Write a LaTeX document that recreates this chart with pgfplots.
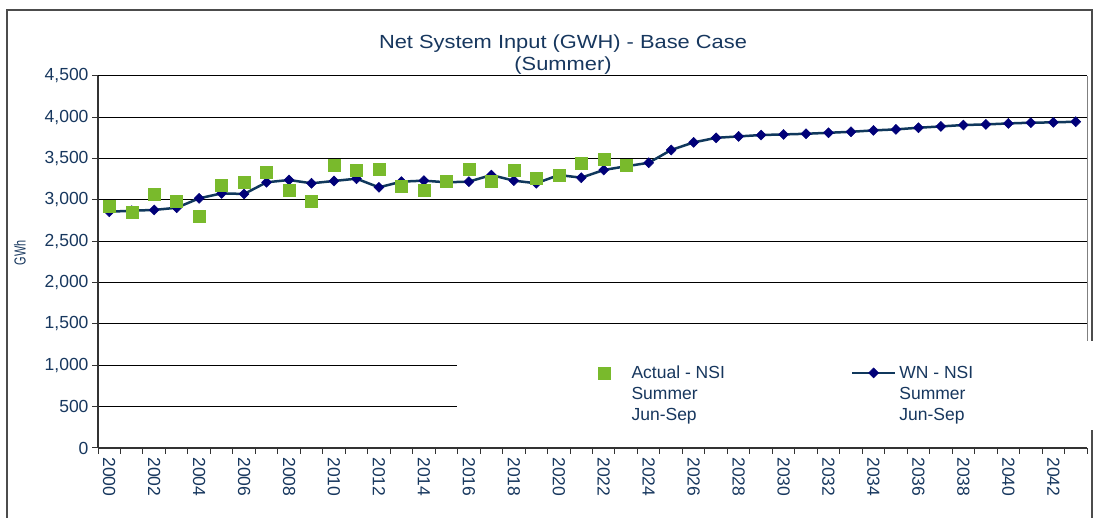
\documentclass[border=0pt]{standalone}
\usepackage{pgfplots}
\pgfplotsset{compat=1.18}
\usepackage{pgfplotstable}
\usepackage{fontspec}
\setmainfont{Liberation Sans}
\newfontfamily\titlefont{Liberation Sans}[FakeStretch=1.15]
\newfontfamily\ylabfont{Liberation Sans}[FakeStretch=0.68]

\definecolor{txt}{RGB}{23,55,94}
\definecolor{wnline}{RGB}{16,56,92}
\definecolor{wnmark}{RGB}{0,0,120}
\definecolor{actual}{RGB}{121,186,44}

\pgfplotsset{
  linelegend/.style={legend image code/.code={\draw[mark repeat=2,mark phase=2,##1]
    plot coordinates {(0pt,6pt) (21.5pt,6pt) (43pt,6pt)};}},
  sqlegend/.style={legend image code/.code={\path[draw=none, fill=none] (0pt,0pt) rectangle (30.5pt,12pt);
    \draw[##1] plot coordinates {(6pt,6pt)};}},
}

% Actual - NSI Summer Jun-Sep (GWh)
\pgfplotstableread{
year nsi
2000 2919
2001 2858
2002 3073
2003 2980
2004 2798
2005 3181
2006 3210
2007 3331
2008 3121
2009 2980
2010 3415
2011 3365
2012 3371
2013 3161
2014 3113
2015 3222
2016 3371
2017 3222
2018 3355
2019 3262
2020 3302
2021 3451
2022 3496
2023 3423
}\actualdata

% WN - NSI Summer Jun-Sep (GWh)
\pgfplotstableread{
year nsi
2000 2858
2001 2870
2002 2880
2003 2906
2004 3020
2005 3080
2006 3073
2007 3214
2008 3242
2009 3202
2010 3230
2011 3258
2012 3153
2013 3222
2014 3234
2015 3214
2016 3222
2017 3302
2018 3234
2019 3202
2020 3302
2021 3270
2022 3363
2023 3408
2024 3450
2025 3605
2026 3697
2027 3752
2028 3769
2029 3786
2030 3793
2031 3801
2032 3813
2033 3825
2034 3842
2035 3854
2036 3874
2037 3890
2038 3907
2039 3914
2040 3926
2041 3935
2042 3939
2043 3947
}\wndata

\begin{document}
\begin{tikzpicture}
\useasboundingbox (0pt,0pt) rectangle (1095pt,518pt);
\draw[black!70, line width=1.5pt] (7pt,-20pt) rectangle (1092pt,508pt);
\node[font=\titlefont\fontsize{19}{22}\selectfont, text=txt, anchor=base] at (563pt,469pt) {Net System Input (GWH) - Base Case};
\node[font=\titlefont\fontsize{19}{22}\selectfont, text=txt, anchor=base] at (563pt,447pt) {(Summer)};

\begin{axis}[
  at={(98pt,70pt)}, anchor=south west, scale only axis,
  width=989pt, height=372pt,
  xmin=1999.5, xmax=2043.5, ymin=0, ymax=4500,
  clip=false,
  axis lines=left,
  axis line style={-, black!80, line width=1.5pt},
  xtick={2000,2002,...,2042},
  major x tick style={draw=none},
  minor xtick={1999.5,2000.5,...,2043.5},
  ytick={0,500,...,4500},
  tick align=outside,
  major tick length=6pt, minor tick length=6pt,
  tick style={black!80, line width=1pt},
  ymajorgrids, grid style={black, line width=1pt},
  /pgf/number format/assume math mode=true,
  tick label style={text=txt, font=\fontsize{17.5}{20}\selectfont},
  xticklabel style={rotate=-90, anchor=west, /pgf/number format/1000 sep={}},
  ylabel={\ylabfont\fontsize{16}{18}\selectfont GWh},
  ylabel style={at={(axis description cs:-0.079,0.524)}, anchor=center, text=txt},
  reverse legend,
  legend style={at={(axis description cs:0.5056,0.23)}, anchor=north west,
    draw=none, fill=none, inner sep=0pt, outer sep=0pt,
    legend columns=2, text=txt,
    font=\fontsize{17.5}{20.7}\selectfont,
    cells={anchor=base west, inner sep=0pt},
    /tikz/every odd column/.append style={column sep=1pt},
    /tikz/every even column/.append style={column sep=124pt}},
]
\draw[black!50, line width=1pt] (axis cs:2043.5,4500) -- (axis cs:2043.5,1300);
\fill[white] (axis cs:2015.47,220) rectangle (axis cs:2045,1294);

\addplot[wnline, line width=2.5pt, mark=diamond*, mark size=5pt,
  mark options={wnmark, solid, xscale=1.33, line width=0.5pt}, linelegend]
  table[x=year, y=nsi] {\wndata};
\addlegendentry{\begin{tabular}[t]{@{}l@{}}WN - NSI\\Summer\\Jun-Sep\end{tabular}}

\addplot[only marks, mark=square*, mark size=6pt, color=actual,
  mark options={draw=actual, fill=actual}, sqlegend]
  table[x=year, y=nsi] {\actualdata};
\addlegendentry{\begin{tabular}[t]{@{}l@{}}Actual - NSI\\Summer\\Jun-Sep\end{tabular}}
\end{axis}
\end{tikzpicture}
\end{document}
